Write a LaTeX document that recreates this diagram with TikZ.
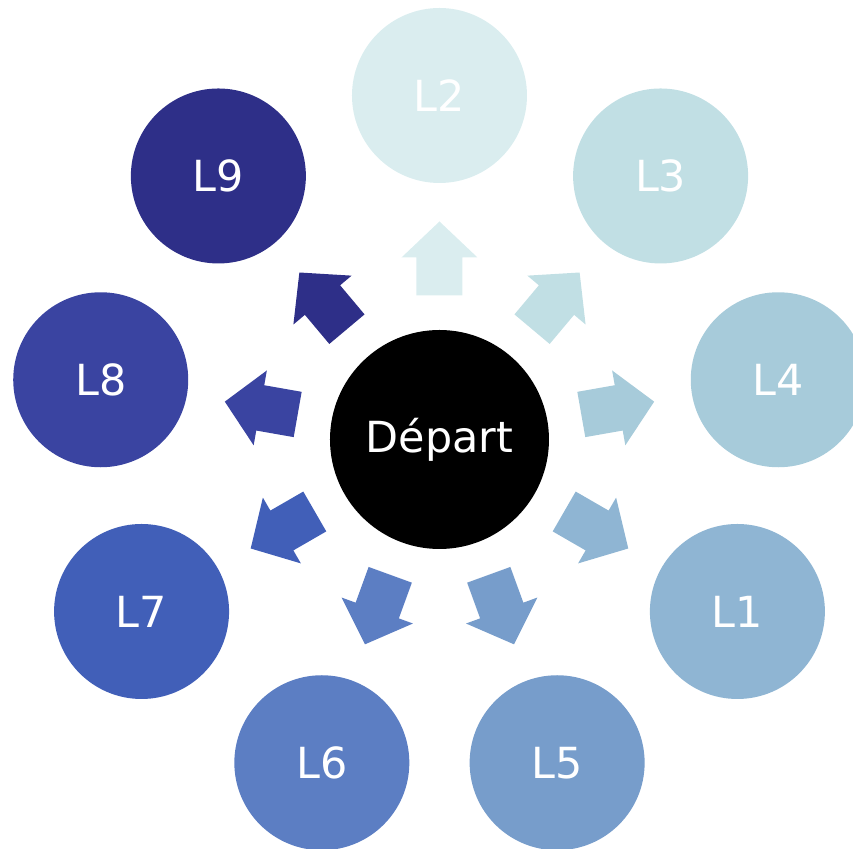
\documentclass[tikz,border=0pt]{standalone}
\usepackage{fontspec}
\setmainfont{DejaVu Sans}
\definecolor{cLtwo}{HTML}{DAEDEF}
\definecolor{cLthree}{HTML}{C1DFE4}
\definecolor{cLfour}{HTML}{A7CBDA}
\definecolor{cLone}{HTML}{8FB5D3}
\definecolor{cLfive}{HTML}{779DCB}
\definecolor{cLsix}{HTML}{5C7EC3}
\definecolor{cLseven}{HTML}{415FB8}
\definecolor{cLeight}{HTML}{3A44A1}
\definecolor{cLnine}{HTML}{2E2F88}

\begin{document}
\begin{tikzpicture}[
		lieu/.style={circle, minimum size=1.75cm, inner sep=0pt, text=white, font=\fontsize{12.2}{14}\selectfont},
		centre/.style={circle, fill=black, minimum size=2.19cm, inner sep=0pt, text=white, font=\fontsize{12.2}{14}\selectfont}
	]
	\useasboundingbox (-4.395,-4.095) rectangle (4.135,4.395);
	
	% --- CENTRE ---
	\node[centre] (depart) at (0,0) {Départ};
	
	% --- LIEUX ET FLECHES ---
	\foreach \ang/\lab/\col in {90/L2/cLtwo, 50/L3/cLthree, 10/L4/cLfour, -30/L1/cLone, -70/L5/cLfive, -110/L6/cLsix, -150/L7/cLseven, 170/L8/cLeight, 130/L9/cLnine} {
		\node[lieu, fill=\col] (\lab) at (\ang:3.44) {\lab};
		\fill[\col, rotate=\ang] (1.44,-0.23) -- (1.82,-0.23) -- (1.82,-0.38) -- (2.18,0)
			-- (1.82,0.38) -- (1.82,0.23) -- (1.44,0.23) -- cycle;
	}
\end{tikzpicture}
\end{document}
